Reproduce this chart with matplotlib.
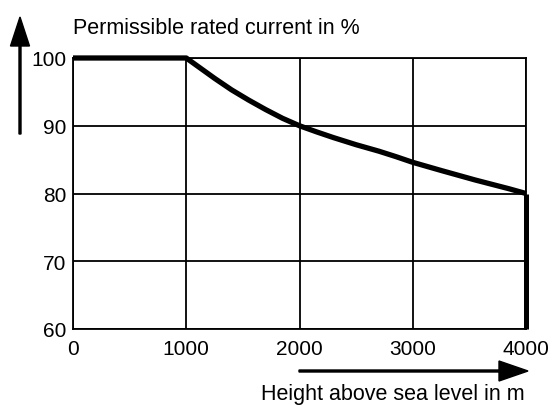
import matplotlib.pyplot as plt
from matplotlib.patches import FancyArrow

plt.rcParams['font.family'] = ['Liberation Sans', 'DejaVu Sans']

# derating curve: altitude (m) -> permissible rated current (%)
height = [0, 1000, 1250, 1400, 1550, 1700, 1850, 2000, 2150, 2300, 2500,
          2700, 2850, 3000, 3250, 3550, 3850, 4000]
current = [100, 100, 97.0, 95.3, 93.8, 92.4, 91.1, 90, 89.1, 88.25, 87.2,
           86.25, 85.45, 84.6, 83.4, 82.0, 80.7, 80]
drop_x = [4000, 4000]
drop_y = [80, 60]

xticks = [0, 1000, 2000, 3000, 4000]
yticks = [60, 70, 80, 90, 100]

fig = plt.figure(figsize=(5.53, 4.06), dpi=100)
ax = fig.add_axes([73/553, 76/406, 453/553, 271/406])

ax.plot(height, current, color='black', lw=3.8, solid_capstyle='butt',
        solid_joinstyle='round', clip_on=False, zorder=5)
ax.plot(drop_x, drop_y, color='black', lw=3.6, solid_capstyle='butt', clip_on=False, zorder=5)

ax.set_xlim(0, 4000)
ax.set_ylim(60, 100)
ax.set_xticks(xticks)
ax.set_yticks(yticks)
ax.grid(True, color='black', lw=1.3)
for s in ax.spines.values():
    s.set_linewidth(1.3)
ax.tick_params(length=0, labelsize=15, colors='black')
ax.tick_params(axis='x', pad=7)
ax.tick_params(axis='y', pad=5)

# axis captions with arrows
fig.text(73/553, 1 - 34/406, 'Permissible rated current in %', fontsize=15.5, ha='left', va='baseline')
fig.text(525/553, 1 - 400/406, 'Height above sea level in m', fontsize=15.5, ha='right', va='baseline')

fig.patches.append(FancyArrow(
    20/553, 1 - 135/406, 0, 117/406, width=2/553, head_width=19/553, head_length=29/406,
    length_includes_head=True, color='black', transform=fig.transFigure, figure=fig))
fig.patches.append(FancyArrow(
    299/553, 1 - 372/406, 229/553, 0, width=2/406, head_width=20/406, head_length=29/553,
    length_includes_head=True, color='black', transform=fig.transFigure, figure=fig))

fig.savefig('out.png', dpi=100)
